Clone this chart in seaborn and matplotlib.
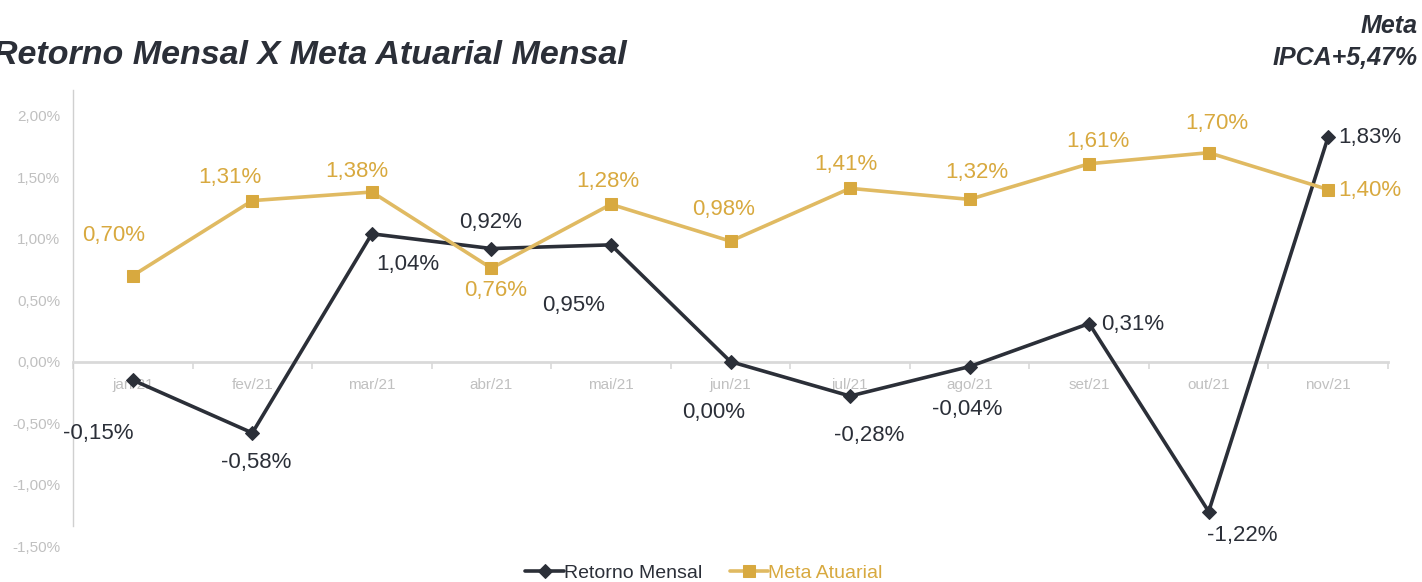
import matplotlib
matplotlib.use("Agg")
import matplotlib.pyplot as plt
import seaborn as sns
import pandas as pd
import numpy as np
from matplotlib.ticker import FixedLocator, FuncFormatter

months = ["jan/21", "fev/21", "mar/21", "abr/21", "mai/21", "jun/21",
          "jul/21", "ago/21", "set/21", "out/21", "nov/21"]
retorno = [-0.15, -0.58, 1.04, 0.92, 0.95, 0.00, -0.28, -0.04, 0.31, -1.22, 1.83]
meta = [0.70, 1.31, 1.38, 0.76, 1.28, 0.98, 1.41, 1.32, 1.61, 1.70, 1.40]
yticks = [-1.5, -1.0, -0.5, 0.0, 0.5, 1.0, 1.5, 2.0]

# label offsets in pixels (dx, dy) for value labels
ret_off = [(-35, -53), (4, -30), (36, -31), (-1, 26), (-37, -61), (-17, -51),
           (19, -39), (-2, -43), (44, -1), (34, -24), (42, -1)]
meta_off = [(-19, 40), (-22, 23), (-15, 21), (4, -22), (-3, 23), (-7, 32),
            (-4, 24), (7, 27), (9, 22), (8, 29), (42, -1)]

DARK = "#2b2f38"
GOLD = "#e0ba62"
GOLD_M = "#d8a93f"
GRAY = "#c0c0c0"

sns.set_theme(style="white")
plt.rcParams["font.family"] = ["Liberation Sans", "DejaVu Sans"]

fig = plt.figure(figsize=(14.22, 5.82), dpi=100)
ax = fig.add_axes([73 / 1422, 1 - 546 / 582, (1388 - 73) / 1422, (546 - 90) / 582])

df = pd.DataFrame({"mes": months, "Retorno Mensal": retorno, "Meta Atuarial": meta})
x = np.arange(len(months))

sns.lineplot(x=x, y=df["Retorno Mensal"], ax=ax, color=DARK, lw=2.6, marker="D",
             markersize=7, markerfacecolor=DARK, markeredgecolor=DARK,
             label="Retorno Mensal", zorder=3)
sns.lineplot(x=x, y=df["Meta Atuarial"], ax=ax, color=GOLD, lw=2.6, marker="s",
             markersize=8, markerfacecolor=GOLD_M, markeredgecolor=GOLD_M,
             label="Meta Atuarial", zorder=3)

for i, v in enumerate(retorno):
    ax.annotate(f"{v:.2f}%".replace(".", ","), (i, v), xytext=ret_off[i],
                textcoords="offset pixels", ha="center", va="center",
                fontsize=16, color=DARK)
for i, v in enumerate(meta):
    ax.annotate(f"{v:.2f}%".replace(".", ","), (i, v), xytext=meta_off[i],
                textcoords="offset pixels", ha="center", va="center",
                fontsize=16, color=GOLD_M)

ax.set_xlim(-0.5, len(months) - 0.5)
ax.set_ylim(-1.5, 2.21)
ax.set_xlabel("")
ax.set_ylabel("")

for s in ["top", "right"]:
    ax.spines[s].set_visible(False)
ax.spines["left"].set_color("#d0d0d0")
ax.spines["left"].set_linewidth(1.0)
ax.spines["left"].set_bounds(-1.34, 2.21)
ax.spines["bottom"].set_position(("data", 0))
ax.spines["bottom"].set_color("#d9d9d9")
ax.spines["bottom"].set_linewidth(2.0)
ax.set_axisbelow(True)

ax.set_xticks(x)
ax.set_xticklabels(months)
ax.xaxis.set_minor_locator(FixedLocator(np.arange(-0.5, len(months), 1.0)))
ax.tick_params(axis="x", which="major", length=0, pad=12, labelsize=11, labelcolor=GRAY)
ax.tick_params(axis="x", which="minor", length=5, width=1.2, color="#d9d9d9", direction="out", bottom=True)

ax.set_yticks(yticks)
ax.yaxis.set_major_formatter(FuncFormatter(lambda v, p: f"{v:.2f}%".replace(".", ",")))
ax.tick_params(axis="y", length=0, pad=9, labelsize=11, labelcolor=GRAY)
ax.grid(False)

leg = ax.legend(loc="center", bbox_to_anchor=(704 / 1422, 1 - 573 / 582),
                bbox_transform=fig.transFigure, ncol=2, frameon=False,
                fontsize=14, handlelength=2.0, handletextpad=0.0, columnspacing=1.4)
for t, c in zip(leg.get_texts(), [DARK, GOLD_M]):
    t.set_color(c)

fig.text(-0.005, 1 - 55 / 582, "Retorno Mensal X Meta Atuarial Mensal", fontsize=24.5,
         fontweight="bold", fontstyle="italic", color=DARK, ha="left", va="center")
fig.text(1418 / 1422, 1 - 42 / 582, "Meta\nIPCA+5,47%", fontsize=18,
         fontweight="bold", fontstyle="italic", color=DARK, ha="right", va="center",
         linespacing=1.4, multialignment="right")

fig.savefig("out.png", dpi=100)
